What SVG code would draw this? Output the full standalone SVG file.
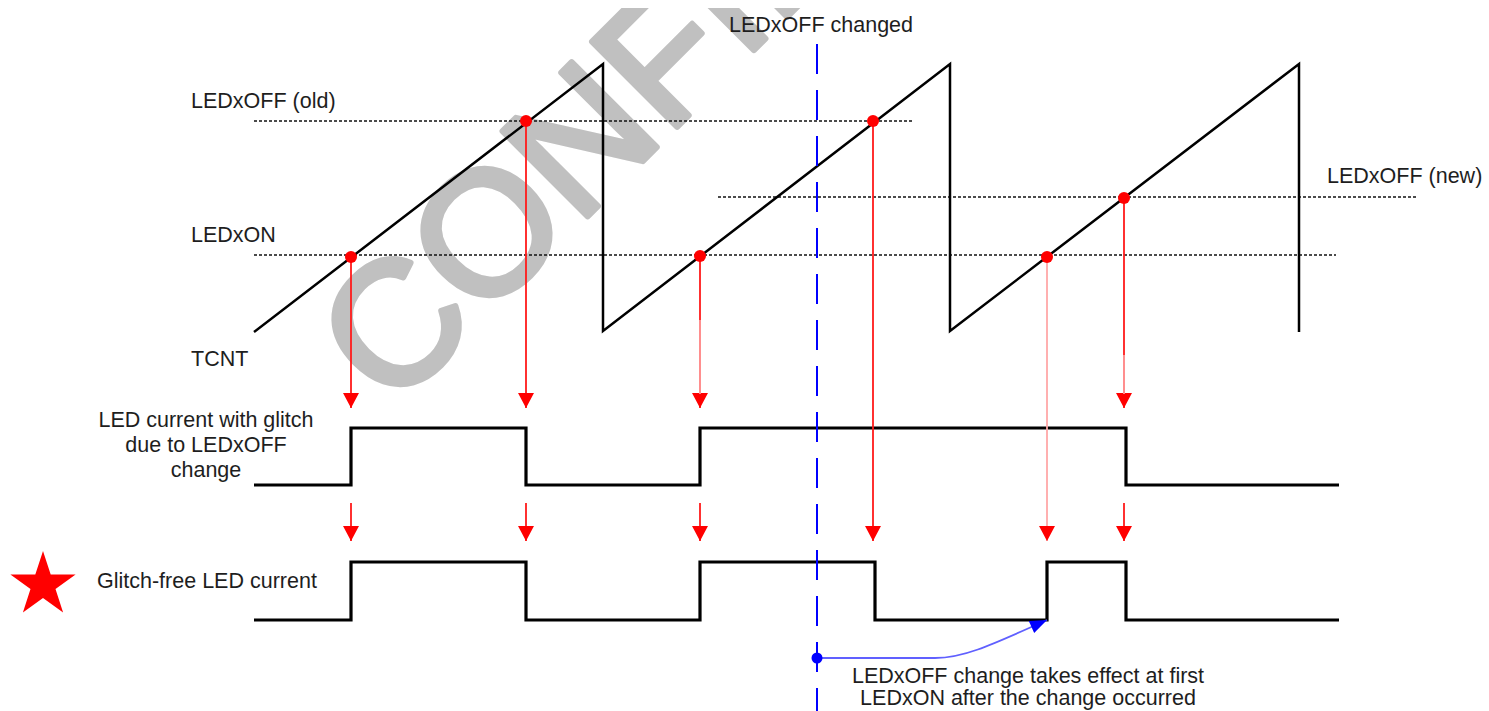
<svg xmlns="http://www.w3.org/2000/svg" width="1489" height="711" viewBox="0 0 1489 711">
<style>
.lbl{font-family:"Liberation Sans",Arial,sans-serif;font-size:21.5px;fill:#1e1e1e}
.saw{fill:none;stroke:#000;stroke-width:2.5;stroke-linejoin:miter}
.thr{fill:none;stroke:#111;stroke-width:1.6;stroke-dasharray:3 2}
.wave{fill:none;stroke:#000;stroke-width:3.2;stroke-linejoin:miter}
.rarr{fill:none;stroke:#ff1a1a;stroke-width:1.8;marker-end:url(#rhead)}
.rarrp{fill:none;stroke:#ffa8a8;stroke-width:1.8;marker-end:url(#rhead)}
.pink{fill:none;stroke:#ff9a9a;stroke-width:1.8}
.dot{fill:#ff0000}
.wm{font-family:"Liberation Sans",Arial,sans-serif;font-size:175px;fill:#c0c0c0;stroke:#c0c0c0;stroke-width:6;stroke-linejoin:round}
</style>
<defs>
<marker id="rhead" markerUnits="userSpaceOnUse" markerWidth="16" markerHeight="16" viewBox="0 -8 15 16" refX="15" refY="0" orient="auto">
<path d="M0,-8 L15,0 L0,8 z" fill="#ff0000"/>
</marker>
<marker id="bhead" markerUnits="userSpaceOnUse" markerWidth="18" markerHeight="14" viewBox="0 -7 17 14" refX="17" refY="0" orient="auto">
<path d="M0,-6.5 L17,0 L0,6.5 z" fill="#0000ff"/>
</marker>
<clipPath id="wmclip"><rect x="0" y="8" width="1489" height="703"/></clipPath>
</defs>
<rect width="1489" height="711" fill="#fff"/>
<g id="watermark" clip-path="url(#wmclip)">
<text class="wm" x="392" y="412" transform="rotate(-45 392 412)">CONFID</text>
</g>
<g id="thresholds">
<line class="thr" x1="254" y1="121" x2="912" y2="121"/>
<line class="thr" x1="718" y1="197" x2="1416" y2="197"/>
<line class="thr" x1="254" y1="255" x2="1336" y2="255"/>
</g>
<g id="tcnt">
<path class="saw" d="M254,332 L603,64 L603,331 L950,64 L950,331 L1299,64 L1299,332"/>
</g>
<g id="wave-glitch">
<path class="wave" d="M254,485 H351 V428 H526 V485 H700 V428 H1126 V485 H1339"/>
</g>
<g id="wave-glitchfree">
<path class="wave" d="M254,620 H351 V562 H526 V620 H700 V562 H875 V620 H1047 V562 H1126 V620 H1339"/>
</g>
<g id="connectors">
<line x1="817" y1="44" x2="817" y2="711" stroke="#0000ff" stroke-width="2" stroke-dasharray="30 16"/>
<line class="rarr" x1="351" y1="257" x2="351" y2="408"/>
<line class="rarr" x1="526" y1="121" x2="526" y2="408"/>
<line class="rarr" x1="700" y1="256" x2="700" y2="408"/>
<line class="pink" x1="700" y1="320" x2="700" y2="394"/>
<line class="rarr" x1="1124" y1="198" x2="1124" y2="408"/>
<line class="pink" x1="1124" y1="355" x2="1124" y2="394"/>
<line class="rarr" x1="873" y1="121" x2="873" y2="541"/>
<line class="rarrp" x1="1047" y1="257" x2="1047" y2="541"/>
<line class="rarr" x1="351" y1="503" x2="351" y2="541"/>
<line class="rarr" x1="526" y1="503" x2="526" y2="541"/>
<line class="rarr" x1="700" y1="503" x2="700" y2="541"/>
<line class="rarr" x1="1124" y1="503" x2="1124" y2="541"/>
<path d="M817,658 H935 C962,658 985,648 1047,620" fill="none" stroke="#6060ff" stroke-width="1.8" marker-end="url(#bhead)"/>
<circle cx="817" cy="658" r="5.5" fill="#0000ff"/>
</g>
<g id="points">
<circle class="dot" cx="351" cy="257" r="6"/>
<circle class="dot" cx="526" cy="121" r="6"/>
<circle class="dot" cx="700" cy="256" r="6"/>
<circle class="dot" cx="873" cy="121" r="6"/>
<circle class="dot" cx="1047" cy="257" r="6"/>
<circle class="dot" cx="1124" cy="198" r="6"/>
</g>
<g id="labels">
<text class="lbl" x="729" y="32">LEDxOFF changed</text>
<text class="lbl" x="191" y="108">LEDxOFF (old)</text>
<text class="lbl" x="191" y="242">LEDxON</text>
<text class="lbl" x="191" y="366">TCNT</text>
<text class="lbl" x="1327" y="183">LEDxOFF (new)</text>
<text class="lbl" text-anchor="middle"><tspan x="206" y="427">LED current with glitch</tspan><tspan x="206" y="452">due to LEDxOFF</tspan><tspan x="206" y="477">change</tspan></text>
<text class="lbl" x="97" y="588">Glitch-free LED current</text>
<text class="lbl" text-anchor="middle"><tspan x="1028" y="683">LEDxOFF change takes effect at first</tspan><tspan x="1028" y="705">LEDxON after the change occurred</tspan></text>
</g>
<g id="star">
<polygon fill="#ff0000" points="43,551 50.7,574.4 75.6,574.4 55.5,589 63.1,612.6 43,598 22.9,612.6 30.5,589 10.4,574.4 35.3,574.4"/>
</g>
</svg>
